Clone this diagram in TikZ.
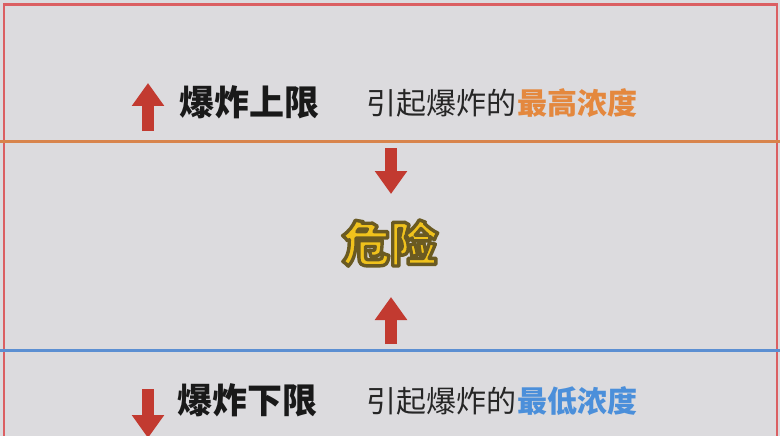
\documentclass[tikz,border=0pt]{standalone}
\usepackage{fontspec}
\newfontfamily\cjk{Noto Sans CJK SC}
\usetikzlibrary{arrows.meta, positioning}

\definecolor{bgcol}{HTML}{DCDBDE}
\definecolor{framered}{HTML}{DB5F62}
\definecolor{upperline}{HTML}{D8844C}
\definecolor{lowerline}{HTML}{5C8FD2}
\definecolor{arrowred}{HTML}{C23A30}
\definecolor{highorange}{HTML}{E4883E}
\definecolor{lowblue}{HTML}{4B8FDA}
\definecolor{dangerfill}{HTML}{F0C21C}
% outline of the danger word, as a raw pdf stroke colour
\newcommand{\outlineon}{\special{pdf:literal q 2 Tr 3.4 w 1 j 0.416 0.353 0.133 RG}}
\newcommand{\outlineoff}{\special{pdf:literal Q}}

\begin{document}
\begin{tikzpicture}[x=1pt, y=-1pt,
    redarrow/.style={draw=arrowred, line width=12pt, -{Triangle[width=31pt, length=23pt]}},
    title/.style={font=\cjk\bfseries\fontsize{35}{40}\selectfont, text=black!90, anchor=west, inner sep=0pt},
    explain/.style={font=\cjk\fontsize{30}{36}\selectfont, text=black!85, anchor=west, inner sep=0pt},
    keyword/.style={font=\cjk\bfseries\fontsize{30}{36}\selectfont, anchor=west, inner sep=0pt},
    danger/.style={font=\cjk\bfseries\fontsize{48}{52}\selectfont, text=dangerfill, inner sep=0pt}]
    % Background
    \fill[bgcol] (0,0) rectangle (780,436);
    \useasboundingbox (0,0) rectangle (780,436);

    % Frame and limit lines
    \draw[framered, line width=2.5pt] (4,440) -- (4,4.5) -- (777,4.5) -- (777,440);
    \draw[upperline, line width=3pt] (0,141) -- (780,141);
    \draw[lowerline, line width=3.5pt] (0,350.5) -- (780,350.5);

    % Upper limit
    \coordinate (upfoot) at (148,131);
    \coordinate (uptip) at (148,83);
    \draw[redarrow] (upfoot) -- (uptip);
    \node[title] (uppername) at (179,102) {爆炸上限};
    \node[explain] (upperexp) at (366,103) {引起爆炸的};
    \node[keyword, text=highorange, right=1pt of upperexp] (upperkey) {最高浓度};

    % Danger zone
    \coordinate (downfoot) at (391,148);
    \coordinate (downtip) at (391,194);
    \draw[redarrow] (downfoot) -- (downtip);
    \coordinate (risefoot) at (391,344);
    \coordinate (risetip) at (391,297);
    \draw[redarrow] (risefoot) -- (risetip);
    \node[danger] (dangertext) at (390,243) {\outlineon 危险\outlineoff};

    % Lower limit
    \coordinate (lowfoot) at (148,389);
    \coordinate (lowtip) at (148,438);
    \draw[redarrow] (lowfoot) -- (lowtip);
    \node[title] (lowername) at (177,400) {爆炸下限};
    \node[explain] (lowerexp) at (366,401) {引起爆炸的};
    \node[keyword, text=lowblue, right=1pt of lowerexp] (lowerkey) {最低浓度};
\end{tikzpicture}
\end{document}
